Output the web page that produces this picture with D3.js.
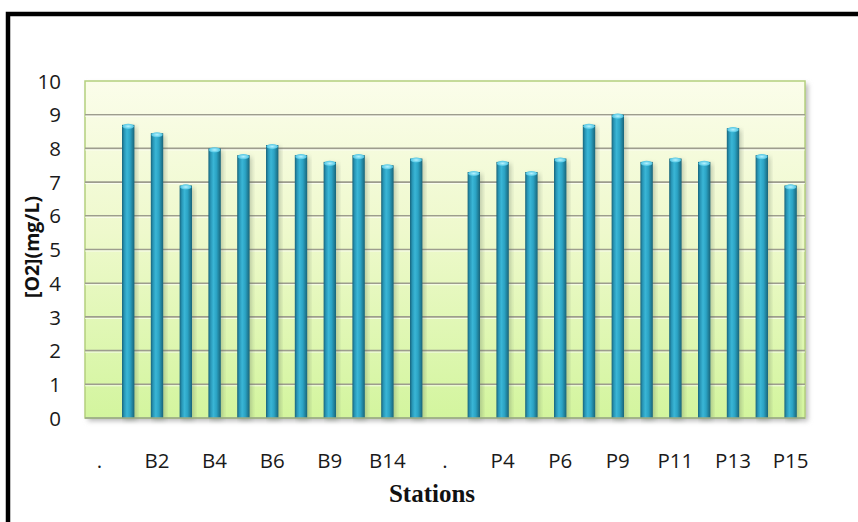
<!DOCTYPE html>
<html>
<head>
<meta charset="utf-8">
<script src="https://cdn.jsdelivr.net/npm/d3@7/dist/d3.min.js"></script>
<style>
  html, body { margin: 0; padding: 0; background: #fff; }
  svg { display: block; }
</style>
</head>
<body>
<svg id="chart" width="858" height="522"></svg>
<script>
// ---- data ----
const stations = [".", "B1", "B2", "B3", "B4", "B5", "B6", "B7", "B9", "B12", "B14", "B15",
                  ".", "P3", "P4", "P5", "P6", "P7", "P9", "P10", "P11", "P12", "P13", "P14", "P15"];
const o2Values = [null, 8.7, 8.45, 6.9, 8.0, 7.8, 8.1, 7.8, 7.6, 7.8, 7.5, 7.7,
                  null, 7.3, 7.6, 7.3, 7.7, 8.7, 9.0, 7.6, 7.7, 7.6, 8.6, 7.8, 6.9];
const shownLabels = [".", "B2", "B4", "B6", "B9", "B14", ".", "P4", "P6", "P9", "P11", "P13", "P15"];
const yTicks = [0, 1, 2, 3, 4, 5, 6, 7, 8, 9, 10];
const xTitle = "Stations";
const yTitle = "[O2](mg/L)";

const svg = d3.select("#chart");
const defs = svg.append("defs");

// frame
svg.append("rect").attr("x", 8).attr("y", 14).attr("width", 870).attr("height", 540)
  .attr("fill", "none").attr("stroke", "#000").attr("stroke-width", 4.5);

const plot = { left: 85, top: 81, right: 805, bottom: 418 };

const x = d3.scaleBand().domain(d3.range(stations.length))
  .range([plot.left, plot.right]).paddingInner(0.57).paddingOuter(0.285);
const y = d3.scaleLinear().domain([0, 10]).range([plot.bottom, plot.top]);

// gradients
const bg = defs.append("linearGradient").attr("id", "bg").attr("x1", 0).attr("y1", 0).attr("x2", 0).attr("y2", 1);
bg.append("stop").attr("offset", "0%").attr("stop-color", "#fbfdea");
bg.append("stop").attr("offset", "45%").attr("stop-color", "#eef9cc");
bg.append("stop").attr("offset", "100%").attr("stop-color", "#d3f59e");

const barG = defs.append("linearGradient").attr("id", "barg").attr("x1", 0).attr("y1", 0).attr("x2", 1).attr("y2", 0);
[["0%", "#17637a"], ["18%", "#2896b6"], ["40%", "#3ab6d6"], ["65%", "#2ba3c4"], ["100%", "#186479"]]
  .forEach(([o, c]) => barG.append("stop").attr("offset", o).attr("stop-color", c));

const capG = defs.append("radialGradient").attr("id", "capg");
capG.append("stop").attr("offset", "0%").attr("stop-color", "#b6f2ff");
capG.append("stop").attr("offset", "100%").attr("stop-color", "#4cc4e2");

const blur = defs.append("filter").attr("id", "shadow").attr("x", "-10%").attr("y", "-10%").attr("width", "130%").attr("height", "130%");
blur.append("feGaussianBlur").attr("stdDeviation", 2.5);

// plot shadow
svg.append("rect").attr("x", plot.left + 3).attr("y", plot.top + 3)
  .attr("width", plot.right - plot.left).attr("height", plot.bottom - plot.top)
  .attr("fill", "#b8b8b8").attr("filter", "url(#shadow)");

// plot background
svg.append("rect").attr("x", plot.left).attr("y", plot.top)
  .attr("width", plot.right - plot.left).attr("height", plot.bottom - plot.top)
  .attr("fill", "url(#bg)").attr("stroke", "#b4d07e").attr("stroke-width", 1.5);

// gridlines
const grid = svg.append("g");
grid.selectAll("line.g1").data(yTicks.filter(d => d > 0 && d < 10)).join("line")
  .attr("x1", plot.left).attr("x2", plot.right)
  .attr("y1", d => y(d)).attr("y2", d => y(d))
  .attr("stroke", "#9d9d8e").attr("stroke-width", 1.6);
grid.selectAll("line.g2").data(yTicks.filter(d => d > 0 && d < 10)).join("line")
  .attr("x1", plot.left).attr("x2", plot.right)
  .attr("y1", d => y(d) + 1.5).attr("y2", d => y(d) + 1.5)
  .attr("stroke", "#ffffff").attr("stroke-opacity", 0.7).attr("stroke-width", 1);

// bar shadows
const data = stations.map((s, i) => ({ i, s, v: o2Values[i] })).filter(d => d.v != null);
svg.append("g").selectAll("rect").data(data).join("rect")
  .attr("x", d => x(d.i) + 2).attr("y", d => y(d.v) + 2)
  .attr("width", x.bandwidth()).attr("height", d => y(0) - y(d.v))
  .attr("fill", "#556655").attr("opacity", 0.35).attr("filter", "url(#shadow)");

// bars
const bars = svg.append("g");
bars.selectAll("rect").data(data).join("rect")
  .attr("x", d => x(d.i)).attr("y", d => y(d.v))
  .attr("width", x.bandwidth()).attr("height", d => y(0) - y(d.v))
  .attr("fill", "url(#barg)");
bars.selectAll("ellipse").data(data).join("ellipse")
  .attr("cx", d => x(d.i) + x.bandwidth() / 2).attr("cy", d => y(d.v) + 1.5)
  .attr("rx", x.bandwidth() / 2 - 0.5).attr("ry", 2.6)
  .attr("fill", "url(#capg)");

// bottom baseline
svg.append("line").attr("x1", plot.left).attr("x2", plot.right)
  .attr("y1", plot.bottom).attr("y2", plot.bottom)
  .attr("stroke", "#9aa88a").attr("stroke-width", 1.5);

// y axis
const yAxis = d3.axisLeft(y).tickValues(yTicks).tickSize(0).tickPadding(0);
const yg = svg.append("g").attr("transform", `translate(61,0)`).call(yAxis);
yg.select(".domain").remove();
yg.selectAll("text").attr("font-family", "'Open Sans', sans-serif").attr("font-size", 20.5)
  .attr("fill", "#1a1a1a").attr("dy", "0.35em");

// x axis
const xAxis = d3.axisBottom(x).tickSize(0).tickPadding(0)
  .tickFormat(i => (i % 2 === 0 ? stations[i] : ""));
const xg = svg.append("g").attr("transform", `translate(0,${plot.bottom})`).call(xAxis);
xg.select(".domain").remove();
xg.selectAll("text").attr("font-family", "'Open Sans', sans-serif").attr("font-size", 20.5)
  .attr("fill", "#1a1a1a").attr("y", 50).attr("dy", 0);

// titles
svg.append("text").attr("x", 432).attr("y", 502).attr("text-anchor", "middle")
  .attr("font-family", "'Liberation Serif', 'Times New Roman', serif").attr("font-weight", "bold")
  .attr("font-size", 25).attr("fill", "#111").text(xTitle);
svg.append("text").attr("transform", "translate(39,247) rotate(-90)").attr("text-anchor", "middle")
  .attr("font-family", "'Open Sans', sans-serif").attr("font-weight", "bold")
  .attr("font-size", 19.5).attr("fill", "#111").text(yTitle);
</script>
</body>
</html>
